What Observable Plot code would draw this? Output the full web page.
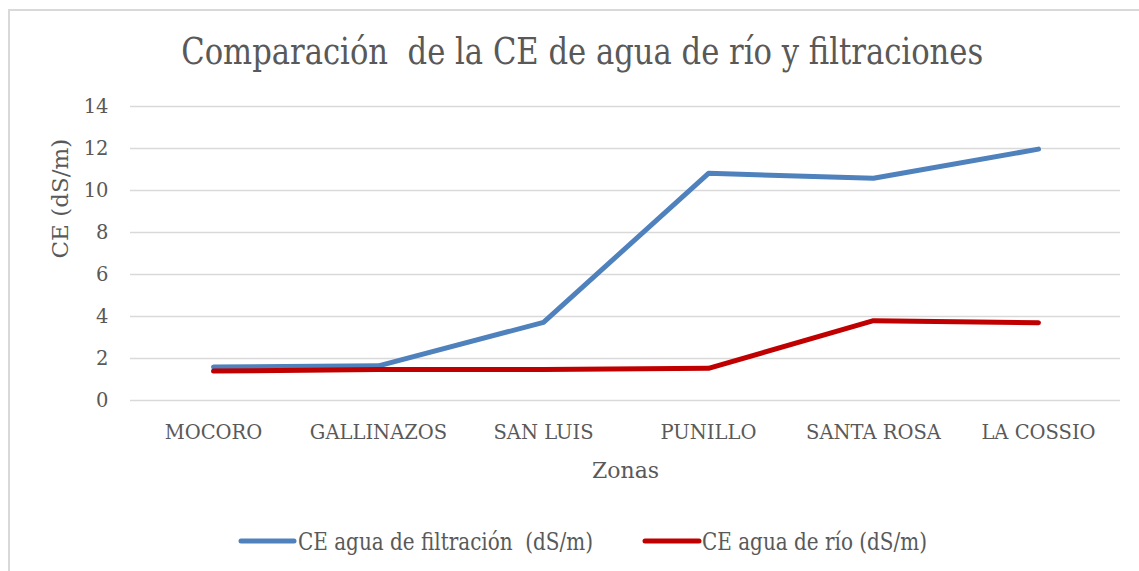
<!DOCTYPE html>
<html>
<head>
<meta charset="utf-8">
<script src="https://cdn.jsdelivr.net/npm/d3@7"></script>
<script src="https://cdn.jsdelivr.net/npm/@observablehq/plot@0.6"></script>
<style>
  html, body { margin: 0; padding: 0; background: #ffffff; }
  #wrap { position: relative; width: 1139px; height: 571px; overflow: hidden; }
  #frame { position: absolute; left: 8px; top: 9px; right: -10px; bottom: -10px;
           border-left: 2px solid #d9d9d9; border-top: 2px solid #d9d9d9; }
  #chart { position: absolute; left: 0; top: 0; }
  #title { position: absolute; top: 33px; left: 0; white-space: pre; line-height: 1;
           font-family: 'DejaVu Serif', serif; font-size: 37px; color: #595959;
           transform-origin: center center; }
  #legend { position: absolute; left: 0; top: 515px; }
  #legend text { white-space: pre; }
</style>
</head>
<body>
<div id="wrap">
  <div id="frame"></div>
  <div id="chart"></div>
  <div id="title"></div>
  <svg id="legend" width="1139" height="56"></svg>
</div>
<script>
const zonas = ["MOCORO", "GALLINAZOS", "SAN LUIS", "PUNILLO", "SANTA ROSA", "LA COSSIO"];
const ceFiltracion = [1.6, 1.65, 3.72, 10.82, 10.58, 11.97];
const ceRio = [1.4, 1.48, 1.48, 1.53, 3.8, 3.7];
const serieNames = ["CE agua de filtración  (dS/m)", "CE agua de río (dS/m)"];
const serieColors = ["#4f81bd", "#c00000"];
const yTicks = [0, 2, 4, 6, 8, 10, 12, 14];
const titleText = "Comparación  de la CE de agua de río y filtraciones";

const rows = [];
zonas.forEach((z, i) => {
  rows.push({zona: z, ce: ceFiltracion[i], serie: serieNames[0]});
  rows.push({zona: z, ce: ceRio[i], serie: serieNames[1]});
});

const font = "'DejaVu Serif', serif";
const chart = Plot.plot({
  width: 1139,
  height: 500,
  marginTop: 106,
  marginBottom: 100,
  marginLeft: 130,
  marginRight: 19,
  style: {fontFamily: font, fontSize: "19.5px", color: "#595959", background: "transparent", overflow: "visible"},
  x: {type: "point", domain: zonas, padding: 0.5, label: null, tickSize: 0, tickPadding: 25},
  y: {domain: [0, 14], ticks: yTicks, label: null, tickSize: 0, tickPadding: 22},
  color: {domain: serieNames, range: serieColors},
  marks: [
    Plot.gridY(yTicks, {stroke: "#d9d9d9", strokeOpacity: 1, strokeWidth: 1.6}),
    Plot.axisY({ticks: yTicks, tickSize: 0, tickPadding: 22, label: null}),
    Plot.axisX({tickSize: 0, tickPadding: 25, label: null}),
    Plot.line(rows, {x: "zona", y: "ce", z: "serie", stroke: "serie", strokeWidth: 5,
                     strokeLinecap: "round", strokeLinejoin: "round"}),
    Plot.text(["Zonas"], {frameAnchor: "bottom", dy: 70, fontSize: 22, fill: "#595959", lineAnchor: "middle"}),
    Plot.text(["CE (dS/m)"], {frameAnchor: "left", dx: -70, dy: 5, rotate: -90, fontSize: 23, fill: "#595959", lineAnchor: "middle"})
  ]
});
document.getElementById("chart").appendChild(chart);

// Title: natural width measured, then squeezed horizontally to the reference width
const titleEl = document.getElementById("title");
titleEl.textContent = titleText;
const natW = titleEl.getBoundingClientRect().width;
const targetW = 802, centerX = 582;
titleEl.style.left = (centerX - natW / 2) + "px";
titleEl.style.transform = `scaleX(${targetW / natW})`;

// Legend
const ls = d3.select("#legend");
const legendItems = [
  {x1: 241, x2: 294, tx: 298, tw: 295},
  {x1: 645, x2: 699, tx: 702, tw: 225}
];
legendItems.forEach((it, i) => {
  ls.append("line").attr("x1", it.x1).attr("x2", it.x2).attr("y1", 26).attr("y2", 26)
    .attr("stroke", serieColors[i]).attr("stroke-width", 5).attr("stroke-linecap", "round");
  ls.append("text").attr("x", it.tx).attr("y", 35)
    .attr("xml:space", "preserve")
    .attr("font-family", font).attr("font-size", 24).attr("fill", "#595959")
    .attr("textLength", it.tw).attr("lengthAdjust", "spacingAndGlyphs")
    .text(serieNames[i]);
});
</script>
</body>
</html>
